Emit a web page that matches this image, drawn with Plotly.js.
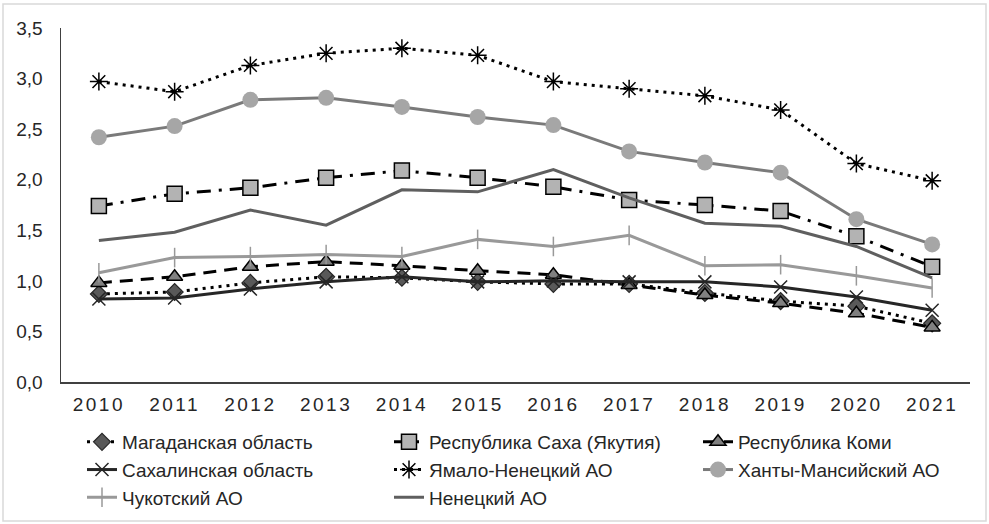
<!DOCTYPE html>
<html>
<head>
<meta charset="utf-8">
<script src="https://cdn.plot.ly/plotly-3.0.1.min.js"></script>
<style>
html,body{margin:0;padding:0;background:#fff;}
#chart{width:989px;height:524px;}
.xtick text{letter-spacing:2.5px;}
</style>
</head>
<body>
<div id="chart"></div>
<script>
const years = ['2010','2011','2012','2013','2014','2015','2016','2017','2018','2019','2020','2021'];

const magadan   = [0.87,0.89,0.98,1.04,1.03,0.99,0.97,0.97,0.88,0.80,0.75,0.58];
const sakha     = [1.74,1.86,1.92,2.02,2.09,2.02,1.93,1.80,1.75,1.69,1.44,1.14];
const komi      = [0.98,1.04,1.14,1.19,1.15,1.10,1.06,0.96,0.86,0.78,0.68,0.54];
const sakhalin  = [0.82,0.83,0.92,0.99,1.04,0.99,1.00,0.99,0.99,0.94,0.84,0.71];
const yamal     = [2.97,2.87,3.13,3.25,3.30,3.23,2.97,2.90,2.83,2.69,2.16,1.99];
const khanty    = [2.42,2.53,2.79,2.81,2.72,2.62,2.54,2.28,2.17,2.07,1.61,1.36];
const chukotka  = [1.08,1.23,1.24,1.26,1.24,1.41,1.34,1.45,1.15,1.16,1.05,0.93];
const nenets    = [1.40,1.48,1.70,1.55,1.90,1.88,2.10,1.82,1.57,1.54,1.34,1.03];

const names = ['Магаданская область','Республика Саха (Якутия)','Республика Коми',
  'Сахалинская область','Ямало-Ненецкий АО','Ханты-Мансийский АО','Чукотский АО','Ненецкий АО'];

const traces = [
  {y: magadan, name: names[0], legend:'legend', mode:'lines+markers',
   line:{color:'#000000', width:3, dash:'3px,5px'},
   marker:{symbol:'diamond', size:13, color:'#595959', line:{color:'#262626', width:1.2}}},
  {y: sakha, name: names[1], legend:'legend2', mode:'lines+markers',
   line:{color:'#000000', width:3, dash:'14px,8px,3px,8px'},
   marker:{symbol:'square', size:15, color:'#b3b3b3', line:{color:'#000000', width:1.5}}},
  {y: komi, name: names[2], legend:'legend3', mode:'lines+markers',
   line:{color:'#000000', width:3, dash:'13px,8px'},
   marker:{symbol:'triangle-up', size:14, color:'#808080', line:{color:'#000000', width:1.5}}},
  {y: sakhalin, name: names[3], legend:'legend', mode:'lines+markers',
   line:{color:'#262626', width:3},
   marker:{symbol:'x-thin-open', size:13, color:'#262626', line:{color:'#262626', width:1.5}}},
  {y: yamal, name: names[4], legend:'legend2', mode:'lines+markers',
   line:{color:'#000000', width:3, dash:'3px,5px'},
   marker:{symbol:'asterisk-open', size:15, color:'#000000', line:{color:'#000000', width:1.5}}},
  {y: khanty, name: names[5], legend:'legend3', mode:'lines+markers',
   line:{color:'#7a7a7a', width:3},
   marker:{symbol:'circle', size:16, color:'#a6a6a6', line:{width:0}}},
  {y: chukotka, name: names[6], legend:'legend', mode:'lines+markers',
   line:{color:'#999999', width:3},
   marker:{symbol:'line-ns-open', size:14, color:'#999999', line:{color:'#999999', width:1.5}}},
  {y: nenets, name: names[7], legend:'legend2', mode:'lines',
   line:{color:'#5f5f5f', width:3}}
].map(t => Object.assign({x: years, type:'scatter'}, t));

const W = 989, H = 524, ml = 61, mr = 19, mt = 28, mb = 142;
const pw = W - ml - mr, ph = H - mt - mb;
const px = v => (v - ml) / pw;
const py = v => (H - mb - v) / ph;

const legendBase = (xpx) => ({
  orientation: 'v', x: px(xpx), y: py(423), xanchor: 'left', yanchor: 'top',
  xref: 'paper', yref: 'paper',
  font: {size: 19, color: '#262626'},
  traceorder: 'normal', bgcolor: 'rgba(0,0,0,0)', borderwidth: 0
});

const layout = {
  width: W, height: H,
  margin: {l: ml, r: mr, t: mt, b: mb, autoexpand: false},
  paper_bgcolor: '#ffffff', plot_bgcolor: '#ffffff',
  separators: ', ',
  font: {family: '"Liberation Sans", Arial, sans-serif', size: 19, color: '#262626'},
  showlegend: true,
  legend: legendBase(82),
  legend2: legendBase(389),
  legend3: legendBase(698),
  xaxis: {
    type: 'category', range: [-0.5, 11.5], autorange: false,
    showgrid: false, zeroline: false,
    showline: true, linecolor: '#404040', linewidth: 1.5,
    ticks: '', ticklabelstandoff: 5,
    tickfont: {size: 19, color: '#262626'}
  },
  yaxis: {
    range: [0, 3.5], autorange: false, dtick: 0.5, tickformat: '.1f',
    showgrid: false, zeroline: false,
    showline: true, linecolor: '#404040', linewidth: 1.5,
    ticks: '', ticklabelstandoff: 13,
    tickfont: {size: 19, color: '#262626'}
  },
  shapes: [{
    type: 'rect', xref: 'paper', yref: 'paper',
    x0: px(3), x1: px(986), y0: py(4), y1: py(521),
    line: {color: '#d9d9d9', width: 1.5}, fillcolor: 'rgba(0,0,0,0)', layer: 'below'
  }]
};

Plotly.newPlot('chart', traces, layout, {displayModeBar: false, staticPlot: true});
</script>
</body>
</html>
